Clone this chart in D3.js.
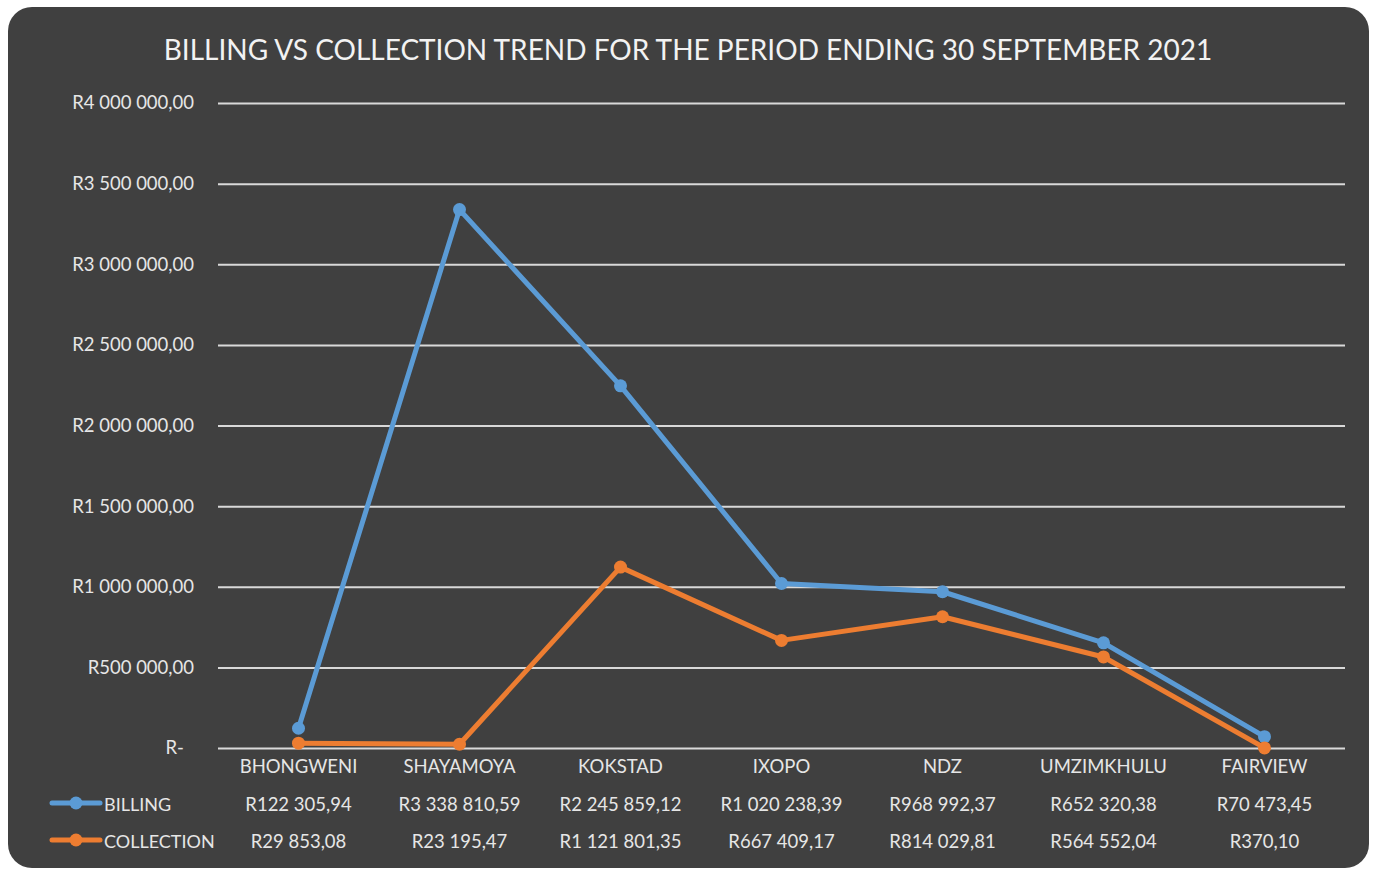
<!DOCTYPE html>
<html><head><meta charset="utf-8">
<script src="https://cdn.jsdelivr.net/npm/d3@7"></script>
<style>body{margin:0;background:#fff;}svg{display:block;}</style>
</head><body>
<svg id="c" width="1373" height="870"></svg>
<script>
const categories = ["BHONGWENI","SHAYAMOYA","KOKSTAD","IXOPO","NDZ","UMZIMKHULU","FAIRVIEW"];
const billing = [122305.94, 3338810.59, 2245859.12, 1020238.39, 968992.37, 652320.38, 70473.45];
const collection = [29853.08, 23195.47, 1121801.35, 667409.17, 814029.81, 564552.04, 370.10];
const billingLabels = ["R122 305,94","R3 338 810,59","R2 245 859,12","R1 020 238,39","R968 992,37","R652 320,38","R70 473,45"];
const collectionLabels = ["R29 853,08","R23 195,47","R1 121 801,35","R667 409,17","R814 029,81","R564 552,04","R370,10"];
const yTicks = [0,500000,1000000,1500000,2000000,2500000,3000000,3500000,4000000];
const yTickLabels = ["R-","R500 000,00","R1 000 000,00","R1 500 000,00","R2 000 000,00","R2 500 000,00","R3 000 000,00","R3 500 000,00","R4 000 000,00"];
const title = "BILLING VS COLLECTION TREND FOR THE PERIOD ENDING 30 SEPTEMBER 2021";
const seriesNames = ["BILLING","COLLECTION"];
const colors = ["#5b9bd5","#ed7d31"];

const svg = d3.select("#c");
const font = "Lato, 'Open Sans', sans-serif";
const txt = "#e6e6e6";
svg.append("rect").attr("x",8).attr("y",7).attr("width",1361).attr("height",861).attr("rx",24).attr("fill","#404040");

svg.append("text").attr("x",688).attr("y",60).attr("text-anchor","middle")
  .attr("font-family",font).attr("font-size",28).attr("fill","#f2f2f2").text(title);

const x = d3.scaleBand().domain(categories).range([218,1345]);
const y = d3.scaleLinear().domain([0,4000000]).range([748,103]);

const yAxis = d3.axisLeft(y).tickValues(yTicks).tickSize(-(1345-218)).tickPadding(24)
  .tickFormat((d,i)=>yTickLabels[i]);
const gy = svg.append("g").attr("transform","translate(218,0)").call(yAxis);
gy.select(".domain").remove();
gy.selectAll(".tick line").attr("stroke","#d9d9d9").attr("stroke-width",2);
gy.selectAll(".tick text").attr("fill",txt).attr("font-family",font).attr("font-size",18.5)
  .attr("dx",d=>d===0?-10:0);

const xAxis = d3.axisBottom(x).tickSize(0).tickPadding(8);
const gx = svg.append("g").attr("transform","translate(0,748)").call(xAxis);
gx.select(".domain").remove();
gx.selectAll(".tick text").attr("fill",txt).attr("font-family",font).attr("font-size",18.5).attr("dy","0.9em");

const cx = d => x(d) + x.bandwidth()/2;
[billing, collection].forEach((vals,si)=>{
  const line = d3.line().x((d,i)=>cx(categories[i])).y(d=>y(d));
  svg.append("path").datum(vals).attr("d",line).attr("fill","none")
    .attr("stroke",colors[si]).attr("stroke-width",5).attr("stroke-linejoin","round");
  svg.selectAll(null).data(vals).enter().append("circle")
    .attr("cx",(d,i)=>cx(categories[i])).attr("cy",d=>y(d)).attr("r",6.5).attr("fill",colors[si]);
});

// data table
const rowY = [811, 848];
[billingLabels, collectionLabels].forEach((labs,si)=>{
  const g = svg.append("g");
  g.append("line").attr("x1",52).attr("x2",100).attr("y1",rowY[si]-8).attr("y2",rowY[si]-8)
    .attr("stroke",colors[si]).attr("stroke-width",5).attr("stroke-linecap","round");
  g.append("circle").attr("cx",76).attr("cy",rowY[si]-8).attr("r",6.5).attr("fill",colors[si]);
  g.append("text").attr("x",104).attr("y",rowY[si]).attr("font-family",font).attr("font-size",18)
    .attr("fill",txt).text(seriesNames[si]);
  g.selectAll(null).data(labs).enter().append("text")
    .attr("x",(d,i)=>cx(categories[i])).attr("y",rowY[si]).attr("text-anchor","middle")
    .attr("font-family",font).attr("font-size",18.5).attr("fill",txt).text(d=>d);
});
</script>
</body></html>
